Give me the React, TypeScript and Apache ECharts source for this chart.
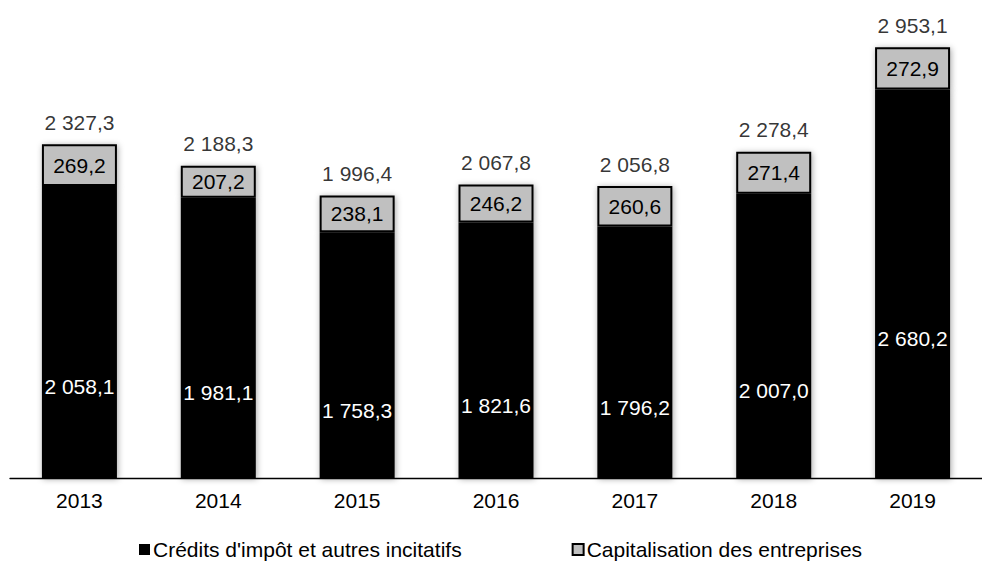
import React, { useEffect, useRef } from "react";
import * as echarts from "echarts";

const years = ["2013", "2014", "2015", "2016", "2017", "2018", "2019"];
const credits = [2058.1, 1981.1, 1758.3, 1821.6, 1796.2, 2007.0, 2680.2];
const capital = [269.2, 207.2, 238.1, 246.2, 260.6, 271.4, 272.9];
const totals = [2327.3, 2188.3, 1996.4, 2067.8, 2056.8, 2278.4, 2953.1];

const seriesNames = ["Crédits d'impôt et autres incitatifs", "Capitalisation des entreprises"];

function fmt(v: number): string {
  const s = v.toFixed(1);
  const [i, d] = s.split(".");
  const withSep = i.replace(/\B(?=(\d{3})+(?!\d))/g, " ");
  return withSep + "," + d;
}

const FONT = "'Liberation Sans', Arial, sans-serif";
const FS = 21;

export default function App() {
  const ref = useRef<HTMLDivElement>(null);
  useEffect(() => {
    if (!ref.current) return;
    const chart = echarts.init(ref.current, undefined, { renderer: "svg" });
    const shadow = {
      shadowBlur: 6,
      shadowColor: "rgba(0,0,0,0.35)",
      shadowOffsetX: 1,
      shadowOffsetY: 1,
    };
    chart.setOption({
      animation: false,
      backgroundColor: "#ffffff",
      textStyle: { fontFamily: FONT },
      grid: { left: 10, width: 986, top: 40, height: 438 },
      legend: {
        data: seriesNames,
        left: 139,
        top: 539,
        padding: 0,
        itemWidth: 11,
        itemHeight: 11,
        itemGap: 110,
        icon: "rect",
        textStyle: { fontFamily: FONT, fontSize: FS, color: "#000", padding: [0, 0, 0, -2] },
      },
      xAxis: {
        type: "category",
        data: years,
        axisLine: { show: true, lineStyle: { color: "#000", width: 1.3 } },
        axisTick: { show: false },
        axisLabel: { color: "#000", fontSize: FS, fontFamily: FONT, margin: 12 },
      },
      yAxis: {
        type: "value",
        min: 172,
        max: 3000,
        show: false,
        splitLine: { show: false },
      },
      series: [
        {
          name: seriesNames[0],
          type: "bar",
          stack: "t",
          barWidth: 75,
          data: credits,
          itemStyle: { color: "#000000", ...shadow },
          label: {
            show: true,
            position: "inside",
            offset: [0, 55],
            color: "#ffffff",
            fontSize: FS,
            fontFamily: FONT,
            formatter: (p: any) => fmt(p.value),
          },
        },
        {
          name: seriesNames[1],
          type: "bar",
          stack: "t",
          barWidth: 75,
          data: capital,
          itemStyle: { color: "#c0c0c0", borderColor: "#000", borderWidth: 2, ...shadow },
          label: {
            show: true,
            position: "inside",
            color: "#000",
            fontSize: FS,
            fontFamily: FONT,
            formatter: (p: any) => fmt(p.value),
          },
        },
        {
          name: "total",
          type: "scatter",
          data: totals,
          symbolSize: 1,
          itemStyle: { color: "transparent" },
          label: {
            show: true,
            position: "top",
            distance: 11,
            color: "#000",
            fontSize: FS,
            fontFamily: FONT,
            formatter: (p: any) => fmt(p.value),
          },
          silent: true,
        },
      ],
    });
    return () => chart.dispose();
  }, []);
  return (
    <div
      ref={ref}
      style={{ position: "fixed", left: 0, top: 0, width: 982, height: 569 }}
    />
  );
}
